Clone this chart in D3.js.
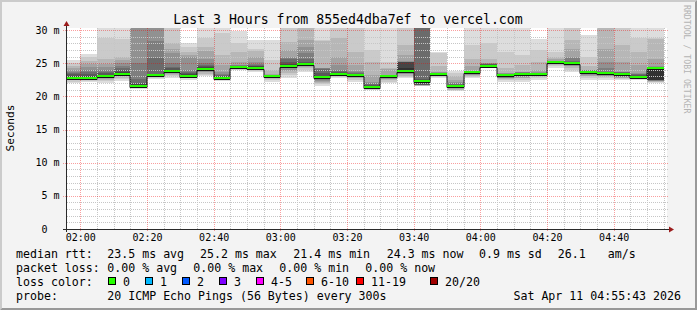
<!DOCTYPE html>
<html><head><meta charset="utf-8">
<script src="https://cdn.jsdelivr.net/npm/d3@7"></script>
<style>
html,body{margin:0;padding:0;background:#f3f3f3;}
svg{display:block;}
text{font-family:"DejaVu Sans Mono",monospace;white-space:pre;}
</style></head><body>
<svg id="c" width="697" height="310"></svg>
<script>
// ---------------- data ----------------
const title = "Last 3 Hours from 855ed4dba7ef to vercel.com";
const yAxisTitle = "Seconds";
const watermark = "RRDTOOL / TOBI OETIKER";
const yTickValues = [0, 5, 10, 15, 20, 25, 30];
const yTickLabels = [" 0  ", " 5 m", "10 m", "15 m", "20 m", "25 m", "30 m"];
const xTickLabels = ["02:00","02:20","02:40","03:00","03:20","03:40","04:00","04:20","04:40"];
const slots = ["01:55","02:00","02:05","02:10","02:15","02:20","02:25","02:30","02:35","02:40","02:45","02:50","02:55",
  "03:00","03:05","03:10","03:15","03:20","03:25","03:30","03:35","03:40","03:45","03:50","03:55",
  "04:00","04:05","04:10","04:15","04:20","04:25","04:30","04:35","04:40","04:45","04:50"];
// median rtt (ms) per 5-minute slot
const medians = [22.8,22.8,23.0,23.4,21.6,23.2,23.8,23.1,24.1,22.8,24.4,24.3,23.1,24.5,24.8,22.9,23.4,23.2,
  21.4,23.0,23.8,22.3,23.4,21.5,23.6,24.6,23.2,23.4,23.4,25.2,25.1,23.6,23.5,23.3,22.9,24.3];
// 20 sorted ping rtts (ms) per slot (values above 30 ms are off the chart)
const pings = [
 [22.0,22.2,22.4,22.5,22.6,22.65,22.7,22.75,22.8,22.8,22.95,23.1,23.3,23.5,23.7,24.0,24.2,24.6,25.0,25.5],
 [22.1,22.3,22.4,22.5,22.6,22.65,22.7,22.75,22.8,22.8,22.9,23.1,23.4,23.7,24.0,24.4,24.9,25.4,25.9,26.4],
 [22.0,22.3,22.5,22.65,22.75,22.85,22.9,22.95,23.0,23.0,23.1,23.25,23.45,23.7,24.0,24.4,24.8,25.7,28.8,31],
 [22.3,22.6,22.8,23.0,23.1,23.2,23.25,23.3,23.35,23.4,23.5,23.7,23.9,24.2,24.5,25.0,25.5,26.0,28.7,31],
 [21.1,21.2,21.3,21.35,21.4,21.45,21.5,21.55,21.6,21.6,21.7,21.8,22.0,22.6,25.1,31,31,31,31,31],
 [22.6,22.8,22.9,23.0,23.05,23.1,23.1,23.15,23.2,23.2,23.25,23.3,23.4,25.8,28.3,31,31,31,31,31],
 [22.7,23.0,23.2,23.4,23.5,23.6,23.65,23.7,23.75,23.8,23.9,24.0,24.2,24.4,25.0,26.5,27.2,28.0,31,31],
 [22.5,22.7,22.8,22.9,22.95,23.0,23.0,23.05,23.1,23.1,23.2,23.3,23.5,23.7,24.0,26.0,26.2,26.7,27.5,28.0],
 [23.0,23.2,23.4,23.6,23.7,23.8,23.9,24.0,24.05,24.1,24.2,24.35,24.5,24.7,25.0,25.7,26.8,27.5,28.75,31],
 [22.3,22.5,22.6,22.65,22.7,22.72,22.75,22.77,22.8,22.8,22.85,22.95,23.05,23.15,23.3,23.7,24.7,26.2,29.5,31],
 [23.9,24.0,24.1,24.2,24.25,24.3,24.33,24.36,24.4,24.4,24.45,24.5,24.55,24.6,24.65,24.7,25.2,26.7,28.0,29.8],
 [23.7,23.85,23.95,24.05,24.1,24.15,24.2,24.25,24.3,24.3,24.4,24.5,24.6,24.7,24.8,25.2,26.0,26.8,27.2,28.5],
 [22.2,22.4,22.6,22.8,22.9,22.95,23.0,23.05,23.08,23.1,23.12,23.15,23.18,23.2,23.25,23.28,23.3,24.0,25.5,28.5],
 [22.7,23.2,23.5,23.8,24.0,24.2,24.3,24.4,24.45,24.5,24.6,24.8,25.2,25.6,25.8,26.0,27.0,28.2,31,31],
 [23.7,24.0,24.2,24.4,24.5,24.6,24.65,24.7,24.75,24.8,24.9,25.0,25.2,25.7,26.5,27.5,28.5,31,31,31],
 [21.5,21.8,22.0,22.2,22.35,22.5,22.6,22.7,22.8,22.9,23.0,23.1,23.5,24.15,24.2,24.25,24.3,28.3,28.5,31],
 [22.7,22.9,23.0,23.1,23.2,23.25,23.3,23.35,23.4,23.4,23.45,23.55,23.65,23.8,24.0,24.7,26.0,28.75,31,31],
 [22.2,22.5,22.7,22.75,22.85,22.95,23.0,23.1,23.15,23.2,23.25,23.3,23.35,23.45,23.6,23.8,24.7,26.7,31,31],
 [20.9,21.0,21.1,21.2,21.25,21.3,21.33,21.36,21.4,21.4,21.45,21.55,21.7,21.9,22.0,22.2,23.2,25.2,27.0,31],
 [22.0,22.2,22.4,22.55,22.65,22.75,22.85,22.9,22.95,23.0,23.02,23.05,23.07,23.1,23.15,23.2,24.1,24.2,25.2,31],
 [22.7,22.9,23.1,23.3,23.4,23.5,23.6,23.7,23.75,23.8,24.2,25.18,25.2,25.22,25.25,25.3,26.2,27.7,31,31],
 [21.5,21.55,21.6,21.65,21.68,21.7,21.7,21.75,22.0,22.3,22.4,22.5,22.6,31,31,31,31,31,31,31],
 [22.7,22.9,23.0,23.1,23.2,23.25,23.3,23.35,23.38,23.4,23.44,23.46,23.48,23.5,23.55,23.6,23.7,24.5,26.6,26.7],
 [20.8,20.9,21.0,21.1,21.2,21.3,21.35,21.4,21.45,21.5,21.55,21.6,21.7,21.8,22.0,22.2,22.5,23.0,23.5,23.8],
 [22.7,22.9,23.1,23.2,23.25,23.3,23.4,23.45,23.5,23.6,23.62,23.65,23.68,23.7,23.75,23.8,24.5,25.7,27.7,31],
 [24.3,24.4,24.45,24.5,24.52,24.55,24.57,24.58,24.6,24.6,24.7,24.75,24.8,24.85,24.9,25.0,25.1,25.7,28.0,31],
 [22.2,22.5,22.6,22.7,22.75,22.8,22.9,23.0,23.1,23.2,23.25,23.27,23.3,23.35,23.4,23.45,23.5,24.2,26.7,31],
 [22.2,22.5,22.7,22.8,22.9,23.0,23.1,23.2,23.3,23.4,23.44,23.47,23.5,23.55,23.6,23.65,23.7,24.7,26.2,31],
 [22.5,22.7,22.9,23.0,23.1,23.2,23.25,23.3,23.35,23.4,23.42,23.45,23.48,23.5,23.55,23.6,24.0,25.2,27.0,28.7],
 [24.2,24.5,24.7,24.9,25.0,25.05,25.1,25.15,25.18,25.2,25.21,25.22,25.24,25.26,25.28,25.3,25.7,26.0,26.7,31],
 [23.7,24.0,24.3,24.5,24.6,24.7,24.8,24.9,25.0,25.1,25.15,25.2,25.25,25.3,25.8,26.0,27.2,28.5,31,31],
 [22.5,22.8,23.0,23.1,23.2,23.3,23.4,23.5,23.55,23.6,23.7,23.75,23.8,23.85,23.9,23.95,24.0,24.5,26.0,29.2],
 [22.5,22.7,22.9,23.0,23.1,23.2,23.3,23.4,23.45,23.5,23.55,23.62,23.68,23.7,24.2,25.2,27.2,31,31,31],
 [22.5,22.6,22.7,22.8,22.85,22.9,23.0,23.1,23.2,23.3,23.36,23.42,23.5,23.6,23.65,23.7,25.2,27.7,31,31],
 [22.5,22.6,22.65,22.7,22.75,22.8,22.82,22.85,22.88,22.9,23.0,23.1,23.2,23.3,23.4,23.5,24.7,26.7,28.75,31],
 [22.0,22.1,22.2,22.25,22.3,22.35,22.4,22.45,22.5,22.5,24.35,24.4,24.42,24.45,24.48,24.5,25.7,28.7,28.8,31]
];
const rttStats = ["23.5","25.2","21.4","24.3","0.9","26.1"];
const rttStatNames = ["ms avg","ms max","ms min","ms now","ms sd",""];
const lossStats = ["0.00","0.00","0.00","0.00"];
const lossStatNames = ["% avg","% max","% min","% now"];
const lossLabels = ["0","1","2","3","4-5","6-10","11-19","20/20"];
const lossColors = ["#26ff00","#00b8ff","#0059ff","#7e00ff","#ff00ff","#ff5500","#ff0000","#a00000"];
const probeText = "20 ICMP Echo Pings (56 Bytes) every 300s";
const stampText = "Sat Apr 11 04:55:43 2026";

// ---------------- layout ----------------
const W = 697, H = 310;
const cv = {x0: 67, x1: 667, y0: 28, y1: 229};
const parse = d3.utcParse("%H:%M");
const x = d3.scaleUtc().domain([parse("01:56"), parse("04:56")]).range([cv.x0, cv.x1]);
const y = d3.scaleLinear().domain([0, 30]).range([cv.y1, 30]);
const svg = d3.select("#c");

// background + 3D frame
svg.append("rect").attr("width", W).attr("height", H).attr("fill", "#f3f3f3");
svg.append("polygon").attr("points", `0,0 ${W},0 ${W-2},2 2,2 2,${H-2} 0,${H}`).attr("fill", "#cbcbcb");
svg.append("polygon").attr("points", `${W},0 ${W},${H} 0,${H} 2,${H-2} ${W-2},${H-2} ${W-2},2`).attr("fill", "#999999");
svg.append("rect").attr("x", cv.x0).attr("y", cv.y0).attr("width", cv.x1 - cv.x0).attr("height", cv.y1 - cv.y0).attr("fill", "#ffffff");

const defs = svg.append("defs");
defs.append("clipPath").attr("id", "clip").append("rect")
  .attr("x", cv.x0).attr("y", cv.y0).attr("width", cv.x1 - cv.x0).attr("height", cv.y1 - cv.y0);

// smoke
const gray = k => { const c = Math.floor(190 / 10 * (10 - (k + 1))) + 50; return d3.rgb(c, c, c).formatHex(); };
const gSmoke = svg.append("g").attr("clip-path", "url(#clip)").attr("shape-rendering", "crispEdges");
slots.forEach((s, i) => {
  const t0 = parse(s), t1 = d3.utcMinute.offset(t0, 5);
  const xa = Math.round(x(t0)), xb = Math.round(x(t1));
  const p = pings[i];
  for (let k = 0; k < 10; k++) {
    const ya = Math.round(y(p[19 - k])), yb = Math.round(y(p[k]));
    gSmoke.append("rect").attr("x", xa).attr("width", xb - xa)
      .attr("y", ya).attr("height", Math.max(yb - ya, 0)).attr("fill", gray(k));
  }
});

// grid (drawn on top like rrdtool)
const gGrid = svg.append("g").attr("shape-rendering", "crispEdges");
const minorT = x.ticks(d3.utcMinute.every(5)).filter(t => t.getUTCMinutes() % 20 !== 0);
gGrid.selectAll(".vmin").data(minorT).join("line")
  .attr("x1", d => Math.round(x(d)) + 0.5).attr("x2", d => Math.round(x(d)) + 0.5)
  .attr("y1", cv.y0).attr("y2", cv.y1)
  .attr("stroke", "#c6c6c6").attr("stroke-dasharray", "1,1");
const minorV = d3.range(1, 31).filter(v => v % 5 !== 0);
gGrid.selectAll(".hmin").data(minorV).join("line")
  .attr("y1", d => Math.round(y(d)) + 0.5).attr("y2", d => Math.round(y(d)) + 0.5)
  .attr("x1", cv.x0).attr("x2", cv.x1 + 1)
  .attr("stroke", "#c6c6c6").attr("stroke-dasharray", "1,1");
const majorT = xTickLabels.map(parse);
gGrid.selectAll(".vmaj").data(majorT).join("line")
  .attr("x1", d => Math.round(x(d)) + 0.5).attr("x2", d => Math.round(x(d)) + 0.5)
  .attr("y1", cv.y0).attr("y2", cv.y1 + 3)
  .attr("stroke", "rgba(240,0,0,0.38)").attr("stroke-dasharray", "1,1");
gGrid.selectAll(".hmaj").data(yTickValues.filter(v => v > 0)).join("line")
  .attr("y1", d => Math.round(y(d)) + 0.5).attr("y2", d => Math.round(y(d)) + 0.5)
  .attr("x1", cv.x0 - 4).attr("x2", cv.x1 + 1)
  .attr("stroke", "rgba(240,0,0,0.38)").attr("stroke-dasharray", "1,1");

// median line
const gMed = svg.append("g").attr("clip-path", "url(#clip)");
const medPts = [];
slots.forEach((s, i) => {
  const t0 = parse(s), t1 = d3.utcMinute.offset(t0, 5);
  const yy = Math.round(y(medians[i]));
  medPts.push([Math.round(x(t0)), yy + 1.5], [Math.round(x(t1)), yy + 1.5]);
});
gMed.append("path").attr("d", d3.line()(medPts)).attr("fill", "none").attr("stroke", "#111").attr("stroke-width", 1);
slots.forEach((s, i) => {
  const t0 = parse(s), t1 = d3.utcMinute.offset(t0, 5);
  const yy = Math.round(y(medians[i]));
  gMed.append("line").attr("x1", Math.round(x(t0))).attr("x2", Math.round(x(t1)))
    .attr("y1", yy).attr("y2", yy).attr("stroke", lossColors[0]).attr("stroke-width", 2);
});

// axes
const axisCol = "#2a2a2a", arrowCol = "#9b1c1c";
svg.append("line").attr("x1", cv.x0 - 4).attr("x2", cv.x1 + 4).attr("y1", cv.y1 + 0.5).attr("y2", cv.y1 + 0.5)
  .attr("stroke", axisCol).attr("shape-rendering", "crispEdges");
svg.append("line").attr("x1", cv.x0 - 0.5).attr("x2", cv.x0 - 0.5).attr("y1", cv.y1 + 3).attr("y2", cv.y0 - 3)
  .attr("stroke", axisCol).attr("shape-rendering", "crispEdges");
svg.append("polygon").attr("points", `${cv.x1 + 2},${cv.y1 - 2.5} ${cv.x1 + 2},${cv.y1 + 3.5} ${cv.x1 + 7},${cv.y1 + 0.5}`).attr("fill", arrowCol);
svg.append("polygon").attr("points", `${cv.x0 - 3.5},${cv.y0 - 2} ${cv.x0 + 2.5},${cv.y0 - 2} ${cv.x0 - 0.5},${cv.y0 - 7}`).attr("fill", arrowCol);

// axis labels
svg.selectAll(".yl").data(yTickValues).join("text")
  .attr("x", 35.5).attr("y", d => y(d) + 3.6)
  .attr("font-size", 10).attr("fill", "#000")
  .text((d, i) => yTickLabels[i]);
svg.selectAll(".xl").data(xTickLabels).join("text")
  .attr("x", d => x(parse(d)) + 0.5).attr("y", 241)
  .attr("text-anchor", "middle").attr("font-size", 10).attr("fill", "#000")
  .text(d => d);

// title, y title, watermark
svg.append("text").attr("x", 348).attr("y", 24).attr("text-anchor", "middle")
  .attr("font-size", 13.2).attr("fill", "#000").text(title);
svg.append("text").attr("transform", "translate(13.5,128) rotate(-90)").attr("text-anchor", "middle")
  .attr("font-size", 11.2).attr("fill", "#000").text(yAxisTitle);
svg.append("text").attr("transform", "translate(684,5) rotate(90)")
  .attr("font-size", 8.2).attr("fill", "#b4b4b4").text(watermark);

// legend
const LF = 11.6;
const row = [258, 272, 286, 300];
const lt = (str, xx, yy, anchor) => svg.append("text").attr("x", xx).attr("y", yy)
  .attr("font-size", LF).attr("fill", "#000").attr("text-anchor", anchor || "start").text(str);
lt("median rtt:", 16, row[0]);
const rttX = [107.3, 200, 293.3, 386.7, 479];
rttX.forEach((xx, i) => lt(rttStats[i] + " " + rttStatNames[i], xx, row[0]));
lt(rttStats[5], 557.7, row[0]);
lt("am/s", 607.7, row[0]);
lt("packet loss:", 16, row[1]);
lossStats.forEach((v, i) => lt(v + " " + lossStatNames[i], 107.3 + 86 * i, row[1]));
lt("loss color:", 16, row[2]);
const boxX = [108.5, 145.5, 182.5, 219.5, 256.5, 306.5, 356.5, 430.5];
lossLabels.forEach((l, i) => {
  svg.append("rect").attr("x", boxX[i]).attr("y", 277.5).attr("width", 7).attr("height", 7)
    .attr("fill", lossColors[i]).attr("stroke", "#000").attr("stroke-width", 1);
  lt(l, boxX[i] + 14.6, row[2]);
});
lt("probe:", 16, row[3]);
lt(probeText, 107.3, row[3]);
lt(stampText, 681, row[3], "end");
</script>
</body></html>
